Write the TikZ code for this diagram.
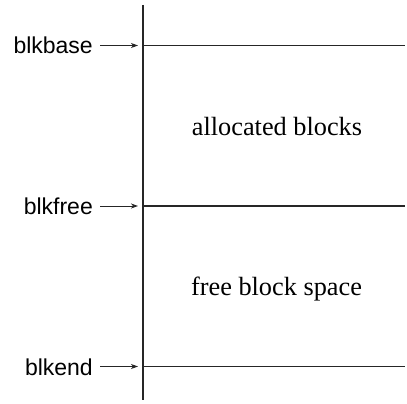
\documentclass[tikz,border=0pt]{standalone}
\usepackage{fontspec}
\setmainfont{Liberation Serif}
\setsansfont{Liberation Sans}
\usetikzlibrary{arrows.meta}
\begin{document}
\begin{tikzpicture}[x=1pt,y=-1pt,
  rule/.style={line width=1.1pt,black!85},
  ptr/.style={line width=1pt,black!85,-{Stealth[length=7pt,width=5pt,inset=2pt]},shorten >=5pt},
  lbl/.style={font=\sffamily\fontsize{23}{23}\selectfont,inner sep=0pt,anchor=base east},
  region/.style={font=\rmfamily\fontsize{26.3}{26.3}\selectfont,inner sep=0pt,anchor=base}]
\useasboundingbox (0,0) rectangle (407,404);
\coordinate (top) at (143,5);
\coordinate (bot) at (143,400);
\coordinate (b0) at (143,45.5);
\coordinate (b1) at (143,206);
\coordinate (b2) at (143,366.5);
\coordinate (e0) at (405,45.5);
\coordinate (e1) at (405,206);
\coordinate (e2) at (405,366.5);
\draw[rule] (top) -- (bot);
\draw[rule] (b0) -- (e0);
\draw[rule] (b1) -- (e1);
\draw[rule] (b2) -- (e2);
\node[lbl] (lbase) at (93,54) {blkbase};
\node[lbl] (lfree) at (93,214.5) {blkfree};
\node[lbl] (lend) at (93,375) {blkend};
\draw[ptr] ([xshift=7pt]lbase.east |- b0) -- (b0);
\draw[ptr] ([xshift=7pt]lfree.east |- b1) -- (b1);
\draw[ptr] ([xshift=7pt]lend.east |- b2) -- (b2);
\node[region] (alloc) at (277,135) {allocated blocks};
\node[region] (free) at (276.5,295) {free block space};
\end{tikzpicture}
\end{document}
